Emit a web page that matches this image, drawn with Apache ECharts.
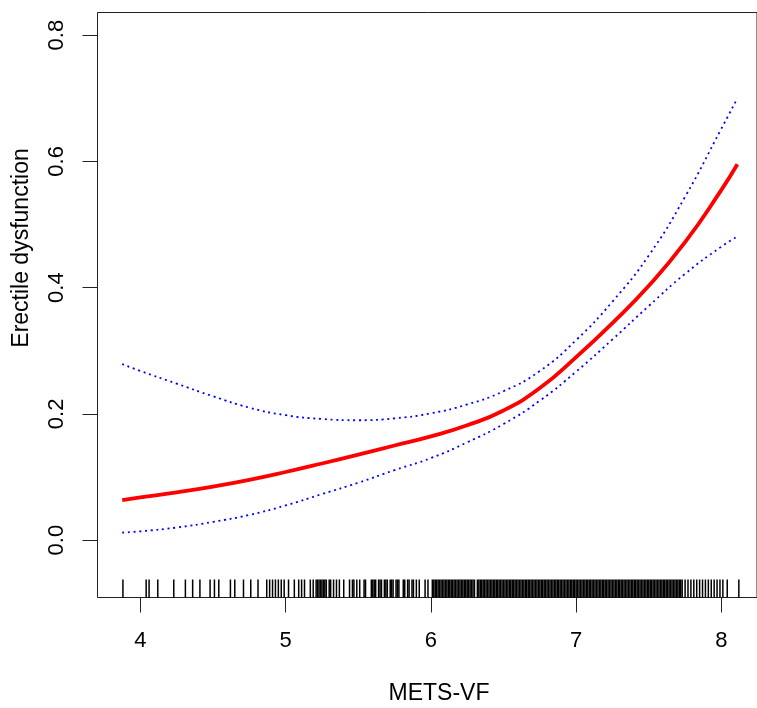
<!DOCTYPE html>
<html lang="en" style="height: 100%">
<head>
  <meta charset="utf-8">
</head>
<body style="height: 100%; margin: 0; background: #fff">
  <div id="container" style="width: 757px; height: 708px"></div>

  <script type="text/javascript" src="https://cdn.jsdelivr.net/npm/echarts@6/dist/echarts.min.js"></script>

  <script type="text/javascript">
    var dom = document.getElementById('container');
    var myChart = echarts.init(dom, null, { renderer: 'canvas' });

    // METS-VF grid where the fitted curve and its CI were read
    const xs = [3.875, 4.0, 4.25, 4.5, 4.75, 5.0, 5.25, 5.5, 5.75, 6.0, 6.25, 6.5,
      6.75, 7.0, 7.25, 7.5, 7.75, 8.0, 8.11];
    const fit = [0.0636, 0.0677, 0.0758, 0.0848, 0.0955, 0.1080, 0.1215, 0.1355, 0.1500,
      0.1645, 0.1820, 0.2055, 0.2410, 0.2900, 0.3440, 0.4030, 0.4720, 0.5550, 0.5955];
    const upper = [0.279, 0.268, 0.248, 0.228, 0.210, 0.198, 0.192, 0.190, 0.193, 0.201,
      0.215, 0.236, 0.268, 0.317, 0.378, 0.451, 0.544, 0.652, 0.700];
    const lower = [0.012, 0.014, 0.020, 0.029, 0.040, 0.055, 0.073, 0.091, 0.111, 0.130,
      0.155, 0.184, 0.221, 0.267, 0.318, 0.371, 0.422, 0.465, 0.481];

    // rug of observed METS-VF values
    const rug = [3.88, 4.04, 4.06, 4.12, 4.23, 4.31, 4.36, 4.41, 4.48, 4.51, 4.54, 4.62, 4.65,
      4.71, 4.76, 4.81, 4.87, 4.89, 4.91, 4.93, 4.95, 4.97, 4.99, 5.02, 5.06, 5.09, 5.11, 5.13,
      5.17, 5.19, 5.21, 5.22, 5.23, 5.24, 5.25, 5.26, 5.27, 5.28, 5.30, 5.31, 5.33, 5.35,
      5.37, 5.40, 5.44, 5.46, 5.47, 5.49, 5.51, 5.54, 5.55, 5.59, 5.60, 5.61, 5.62, 5.64,
      5.65, 5.66, 5.68, 5.69, 5.70, 5.72, 5.73, 5.74, 5.76, 5.77, 5.78, 5.81, 5.82, 5.84,
      5.85, 5.87, 5.88, 5.90, 5.92, 5.96, 5.98, 6.01,
      6.02, 6.03, 6.04, 6.05, 6.06, 6.07, 6.08, 6.09, 6.10, 6.11, 6.12, 6.13, 6.14, 6.15,
      6.16, 6.17, 6.18, 6.19, 6.20, 6.21, 6.22, 6.23, 6.24, 6.25, 6.26, 6.27, 6.28, 6.29,
      6.30, 6.32, 6.33, 6.34, 6.35, 6.36, 6.37, 6.38, 6.39, 6.40, 6.41, 6.42, 6.43, 6.44,
      6.45, 6.46, 6.47, 6.48, 6.49, 6.50, 6.51, 6.52, 6.53, 6.54, 6.55, 6.56, 6.57, 6.58,
      6.59, 6.60, 6.61, 6.62, 6.63, 6.64, 6.65, 6.66, 6.67, 6.68, 6.69, 6.70, 6.71, 6.72,
      6.73, 6.74, 6.75, 6.76, 6.77, 6.78, 6.79, 6.80, 6.81, 6.82, 6.83,
      6.84, 6.85, 6.86, 6.87, 6.88, 6.89, 6.90, 6.91, 6.92, 6.93, 6.94, 6.95, 6.96, 6.97,
      6.98, 6.99, 7.00, 7.01, 7.02, 7.03, 7.04, 7.05, 7.06, 7.07, 7.08, 7.09, 7.10, 7.11,
      7.12, 7.13, 7.14, 7.15, 7.16, 7.17, 7.18, 7.19, 7.20, 7.21, 7.22, 7.23, 7.24, 7.25,
      7.26, 7.27, 7.28, 7.29, 7.30, 7.31, 7.32, 7.33, 7.34, 7.35, 7.36, 7.37, 7.38, 7.39,
      7.40, 7.41, 7.42, 7.43, 7.44, 7.45, 7.46, 7.47, 7.48, 7.49, 7.50, 7.51, 7.52, 7.53,
      7.54, 7.55, 7.56, 7.57, 7.58, 7.59, 7.60, 7.61, 7.62, 7.63, 7.64, 7.65, 7.66, 7.67,
      7.68, 7.69, 7.70, 7.71, 7.72, 7.73,
      7.75, 7.77, 7.79, 7.81, 7.83, 7.85, 7.87, 7.89, 7.91, 7.93, 7.95, 7.97, 7.99, 8.01,
      8.04, 8.12];

    const xTicks = [4, 5, 6, 7, 8];
    const yTicks = [0, 0.2, 0.4, 0.6, 0.8];
    const yTickLabels = ['0.0', '0.2', '0.4', '0.6', '0.8'];

    const xMin = 3.705, xMax = 8.245;
    const yMin = -0.0908, yMax = 0.8359;
    const font = 'Liberation Sans, Arial, Helvetica, sans-serif';

    function pairs(ys) {
      return xs.map(function (x, i) { return [x, ys[i]]; });
    }

    var option = {
      animation: false,
      backgroundColor: '#fff',
      grid: {
        left: 97.5,
        top: 12.5,
        width: 666,
        height: 585,
        show: true,
        borderColor: '#222',
        borderWidth: 1,
        backgroundColor: 'transparent'
      },
      xAxis: {
        type: 'value',
        min: xMin,
        max: xMax,
        axisLine: { show: false, onZero: false },
        splitLine: { show: false },
        axisTick: {
          show: true,
          customValues: xTicks,
          length: 15,
          lineStyle: { color: '#222', width: 1 }
        },
        axisLabel: {
          customValues: xTicks,
          margin: 32,
          fontSize: 22,
          color: '#000',
          fontFamily: font
        }
      },
      yAxis: {
        type: 'value',
        min: yMin,
        max: yMax,
        axisLine: { show: false, onZero: false },
        splitLine: { show: false },
        axisTick: {
          show: true,
          customValues: yTicks,
          length: 15,
          lineStyle: { color: '#222', width: 1 }
        },
        axisLabel: {
          customValues: yTicks,
          rotate: 90,
          margin: 30,
          fontSize: 22,
          color: '#000',
          fontFamily: font,
          formatter: function (v) {
            var i = yTicks.findIndex(function (t) { return Math.abs(t - v) < 1e-9; });
            return i >= 0 ? yTickLabels[i] : '';
          }
        }
      },
      graphic: [
        {
          type: 'text',
          x: 22,
          y: 248,
          rotation: Math.PI / 2,
          style: {
            text: 'Erectile dysfunction',
            fill: '#000',
            font: '23px ' + font,
            align: 'center',
            verticalAlign: 'middle'
          }
        },
        {
          type: 'text',
          x: 439,
          y: 694,
          style: {
            text: 'METS-VF',
            fill: '#000',
            font: '23px ' + font,
            align: 'center',
            verticalAlign: 'middle'
          }
        }
      ],
      series: [
        {
          type: 'custom',
          silent: true,
          data: rug.map(function (v) { return [v]; }),
          renderItem: function (params, api) {
            var p = api.coord([api.value(0), yMin]);
            return {
              type: 'line',
              shape: { x1: p[0], y1: p[1], x2: p[0], y2: p[1] - 18 },
              style: { stroke: '#000', lineWidth: 1.5 }
            };
          }
        },
        {
          type: 'line',
          data: pairs(upper),
          smooth: true,
          symbol: 'none',
          lineStyle: { color: '#0000ff', width: 1.8, type: [2, 3.7] }
        },
        {
          type: 'line',
          data: pairs(lower),
          smooth: true,
          symbol: 'none',
          lineStyle: { color: '#0000ff', width: 1.8, type: [2, 3.7] }
        },
        {
          type: 'line',
          data: pairs(fit),
          smooth: true,
          symbol: 'none',
          lineStyle: { color: '#ff0000', width: 3.8 }
        }
      ]
    };

    myChart.setOption(option);
    window.addEventListener('resize', myChart.resize);
  </script>
</body>
</html>
